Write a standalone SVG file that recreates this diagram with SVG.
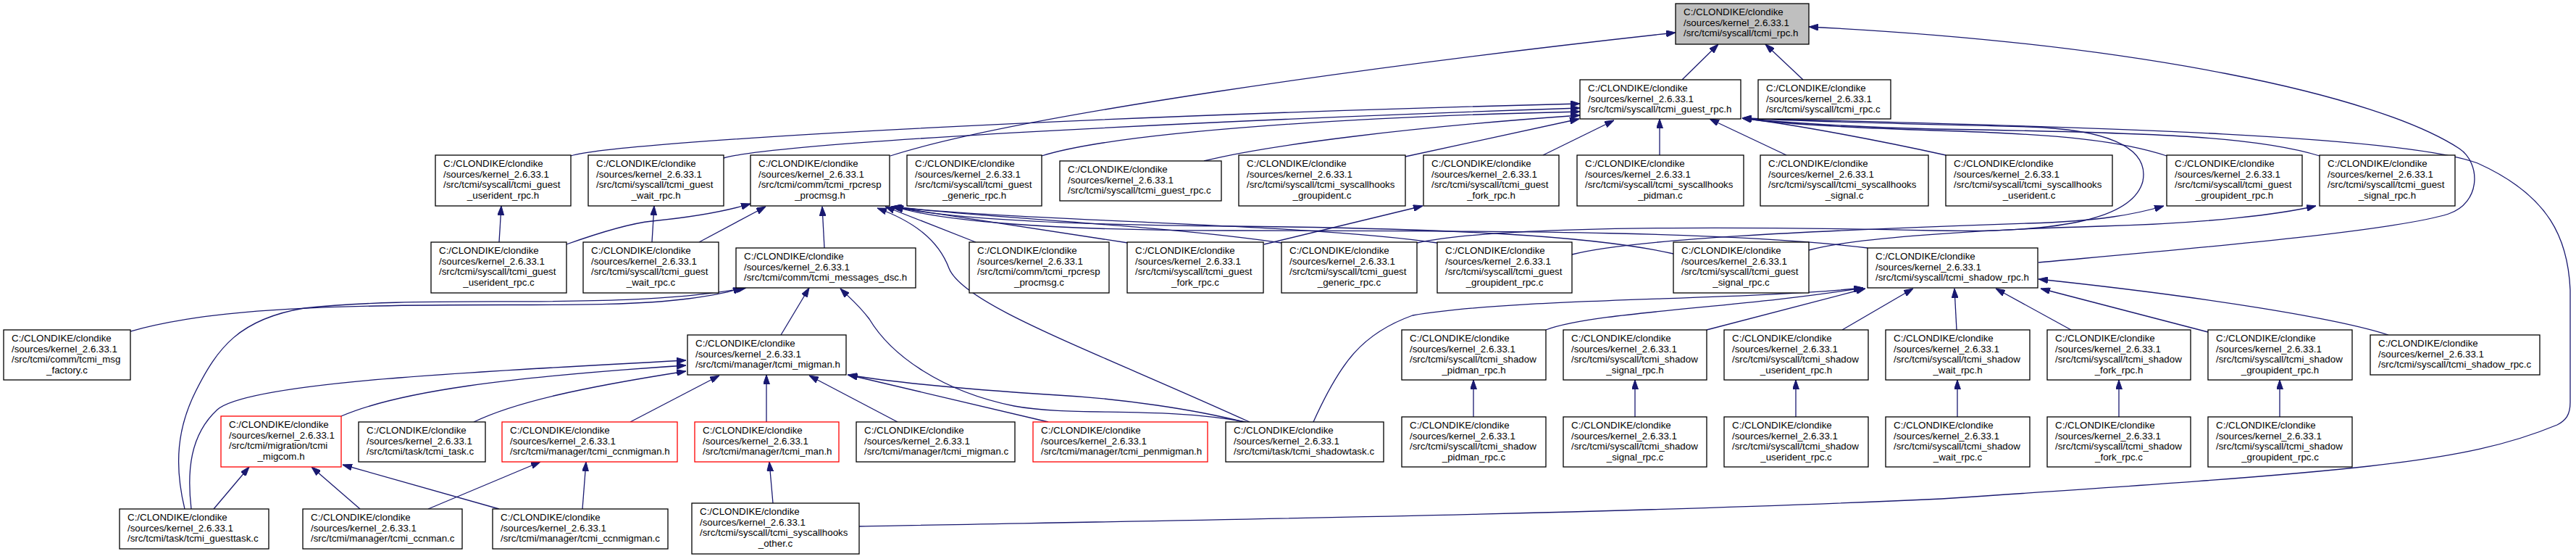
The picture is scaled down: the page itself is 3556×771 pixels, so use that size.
<svg xmlns="http://www.w3.org/2000/svg" width="3556" height="771" viewBox="0 0 3556 771">
<style>
.n rect{fill:#fff;stroke:#000;stroke-width:1.3}
.r rect{stroke:#f00}
.g rect{fill:#bfbfbf}
text{font-family:"Liberation Sans",Arial,sans-serif;font-size:13.33px;fill:#000}
.m{text-anchor:middle}
#edges path{fill:none;stroke:#191970;stroke-width:1.3;marker-end:url(#a)}
</style>
<defs>
<marker id="a" viewBox="0 0 13 9" refX="13" refY="4.5" markerWidth="13" markerHeight="9" markerUnits="userSpaceOnUse" orient="auto" preserveAspectRatio="none">
<path d="M0,0 L13,4.5 L0,9 z" fill="#191970" stroke="#191970" stroke-width="1"/>
</marker>
</defs>
<rect width="3556" height="771" fill="#fff"/>
<g id="edges">
<path d="M2322,110 L2372,61"/>
<path d="M2489,110 L2437,61"/>
<path d="M1229,215 C1400,160 1900,90 2313,45"/>
<path d="M2814,362 C3000,345 3300,320 3380,295 C3425,280 3425,225 3395,205 C3280,130 2950,60 2497,37"/>
<path d="M1186,726 C1600,718 2200,710 2680,688 C3250,650 3400,640 3530,586 C3542,580 3548,572 3548,555 L3548,400 C3545,330 3520,270 3420,225 C3300,180 2700,172 2405,163"/>
<path d="M1956,335 C2050,315 2300,310 2670,318 C2850,322 2945,300 2958,250 C2968,200 2900,178 2800,175 C2650,171 2500,168 2405,163"/>
<path d="M2686,214 C2600,195 2480,172 2405,163"/>
<path d="M2991,215 C2930,195 2850,185 2670,180 C2550,176 2450,170 2405,163"/>
<path d="M3202,215 C3120,190 3000,183 2670,178 C2550,175 2450,168 2405,163"/>
<path d="M788,215 C850,195 1500,160 2181,143"/>
<path d="M999,218 C1080,195 1700,165 2181,149"/>
<path d="M1438,215 C1550,180 1900,160 2181,154"/>
<path d="M1662,222 C1750,200 1950,175 2181,159"/>
<path d="M1940,216 L2180,164"/>
<path d="M2130,214 L2228,166"/>
<path d="M2291,214 L2291,164"/>
<path d="M2466,214 L2360,164"/>
<path d="M689,334 L692,284"/>
<path d="M900,334 L903,284"/>
<path d="M782,337 C830,320 870,308 900,305 C950,300 1000,292 1036,281"/>
<path d="M965,334 L1057,285"/>
<path d="M1138,342 L1135,285"/>
<path d="M1347,334 L1222,285"/>
<path d="M1557,335 L1230,285"/>
<path d="M1769,335 C1600,310 1350,300 1231,285"/>
<path d="M1984,335 C1800,308 1400,305 1232,285"/>
<path d="M2310,350 C2200,325 2000,315 1700,312 C1450,310 1300,300 1233,285"/>
<path d="M2578,342 C2400,320 2100,318 1700,318 C1450,318 1300,305 1234,285"/>
<path d="M1725,582 C1500,480 1330,420 1310,370 C1295,330 1260,305 1211,287"/>
<path d="M1720,582 C1600,560 1480,575 1400,560 C1300,540 1230,490 1200,440 C1185,420 1172,410 1160,398"/>
<path d="M1717,582 C1650,565 1550,550 1460,545 C1350,538 1250,530 1170,517"/>
<path d="M1078,462 L1117,397"/>
<path d="M180,457 C250,437 350,425 520,422 C700,418 850,425 950,412 C990,407 1010,402 1025,397"/>
<path d="M255,702 C240,640 245,590 270,540 C300,480 330,440 420,425 C600,405 850,430 1030,397"/>
<path d="M264,702 C258,650 262,600 300,565 C340,530 600,515 947,497"/>
<path d="M471,574 C550,540 700,520 947,504"/>
<path d="M654,582 C710,555 800,535 947,512"/>
<path d="M870,582 L993,518"/>
<path d="M1058,582 L1058,517"/>
<path d="M1239,582 L1117,518"/>
<path d="M1447,582 L1171,517"/>
<path d="M295,702 L344,644"/>
<path d="M497,702 L430,644"/>
<path d="M689,702 L473,641"/>
<path d="M591,702 L746,637"/>
<path d="M804,702 L809,637"/>
<path d="M1067,694 L1062,637"/>
<path d="M1813,582 C1850,500 1880,460 1950,435 C2100,410 2400,415 2572,397"/>
<path d="M2134,455 C2200,430 2400,425 2572,397"/>
<path d="M2356,455 L2575,398"/>
<path d="M2543,455 L2641,398"/>
<path d="M2701,455 L2698,398"/>
<path d="M2859,455 L2755,398"/>
<path d="M3048,458 L2817,398"/>
<path d="M3297,462 C3230,440 3050,410 2814,385"/>
<path d="M2034,575 L2034,524"/>
<path d="M2257,575 L2257,524"/>
<path d="M2479,575 L2479,524"/>
<path d="M2702,575 L2702,524"/>
<path d="M2925,575 L2925,524"/>
<path d="M3147,575 L3147,524"/>
<path d="M1745,337 L1964,284"/>
<path d="M2170,351 C2250,330 2500,318 2800,308 C2900,305 2950,295 2987,284"/>
<path d="M2497,345 C2550,330 2700,318 2900,312 C3050,308 3150,295 3197,284"/>
</g>
<g id="n1" class="n g"><rect x="2313" y="5" width="184" height="56"/><text x="2324" y="21">C:/CLONDIKE/clondike<tspan x="2324" dy="14.67">/sources/kernel_2.6.33.1</tspan><tspan x="2324" dy="14.67">/src/tcmi/syscall/tcmi_rpc.h</tspan></text></g>
<g id="n2" class="n"><rect x="2181" y="110" width="222" height="54"/><text x="2192" y="126">C:/CLONDIKE/clondike<tspan x="2192" dy="14.67">/sources/kernel_2.6.33.1</tspan><tspan x="2192" dy="14.67">/src/tcmi/syscall/tcmi_guest_rpc.h</tspan></text></g>
<g id="n3" class="n"><rect x="2427" y="110" width="183" height="54"/><text x="2438" y="126">C:/CLONDIKE/clondike<tspan x="2438" dy="14.67">/sources/kernel_2.6.33.1</tspan><tspan x="2438" dy="14.67">/src/tcmi/syscall/tcmi_rpc.c</tspan></text></g>
<g id="n4" class="n"><rect x="601" y="214" width="187" height="70"/><text x="612" y="230">C:/CLONDIKE/clondike<tspan x="612" dy="14.67">/sources/kernel_2.6.33.1</tspan><tspan x="612" dy="14.67">/src/tcmi/syscall/tcmi_guest</tspan><tspan x="694.5" dy="14.67" class="m">_userident_rpc.h</tspan></text></g>
<g id="n5" class="n"><rect x="812" y="214" width="187" height="70"/><text x="823" y="230">C:/CLONDIKE/clondike<tspan x="823" dy="14.67">/sources/kernel_2.6.33.1</tspan><tspan x="823" dy="14.67">/src/tcmi/syscall/tcmi_guest</tspan><tspan x="905.5" dy="14.67" class="m">_wait_rpc.h</tspan></text></g>
<g id="n6" class="n"><rect x="1036" y="214" width="192" height="70"/><text x="1047" y="230">C:/CLONDIKE/clondike<tspan x="1047" dy="14.67">/sources/kernel_2.6.33.1</tspan><tspan x="1047" dy="14.67">/src/tcmi/comm/tcmi_rpcresp</tspan><tspan x="1132" dy="14.67" class="m">_procmsg.h</tspan></text></g>
<g id="n7" class="n"><rect x="1252" y="214" width="186" height="70"/><text x="1263" y="230">C:/CLONDIKE/clondike<tspan x="1263" dy="14.67">/sources/kernel_2.6.33.1</tspan><tspan x="1263" dy="14.67">/src/tcmi/syscall/tcmi_guest</tspan><tspan x="1345" dy="14.67" class="m">_generic_rpc.h</tspan></text></g>
<g id="n8" class="n"><rect x="1463" y="222" width="223" height="55"/><text x="1474" y="238">C:/CLONDIKE/clondike<tspan x="1474" dy="14.67">/sources/kernel_2.6.33.1</tspan><tspan x="1474" dy="14.67">/src/tcmi/syscall/tcmi_guest_rpc.c</tspan></text></g>
<g id="n9" class="n"><rect x="1710" y="214" width="230" height="70"/><text x="1721" y="230">C:/CLONDIKE/clondike<tspan x="1721" dy="14.67">/sources/kernel_2.6.33.1</tspan><tspan x="1721" dy="14.67">/src/tcmi/syscall/tcmi_syscallhooks</tspan><tspan x="1825" dy="14.67" class="m">_groupident.c</tspan></text></g>
<g id="n10" class="n"><rect x="1965" y="214" width="187" height="70"/><text x="1976" y="230">C:/CLONDIKE/clondike<tspan x="1976" dy="14.67">/sources/kernel_2.6.33.1</tspan><tspan x="1976" dy="14.67">/src/tcmi/syscall/tcmi_guest</tspan><tspan x="2058.5" dy="14.67" class="m">_fork_rpc.h</tspan></text></g>
<g id="n11" class="n"><rect x="2177" y="214" width="230" height="70"/><text x="2188" y="230">C:/CLONDIKE/clondike<tspan x="2188" dy="14.67">/sources/kernel_2.6.33.1</tspan><tspan x="2188" dy="14.67">/src/tcmi/syscall/tcmi_syscallhooks</tspan><tspan x="2292" dy="14.67" class="m">_pidman.c</tspan></text></g>
<g id="n12" class="n"><rect x="2430" y="214" width="232" height="70"/><text x="2441" y="230">C:/CLONDIKE/clondike<tspan x="2441" dy="14.67">/sources/kernel_2.6.33.1</tspan><tspan x="2441" dy="14.67">/src/tcmi/syscall/tcmi_syscallhooks</tspan><tspan x="2546" dy="14.67" class="m">_signal.c</tspan></text></g>
<g id="n13" class="n"><rect x="2686" y="214" width="230" height="70"/><text x="2697" y="230">C:/CLONDIKE/clondike<tspan x="2697" dy="14.67">/sources/kernel_2.6.33.1</tspan><tspan x="2697" dy="14.67">/src/tcmi/syscall/tcmi_syscallhooks</tspan><tspan x="2801" dy="14.67" class="m">_userident.c</tspan></text></g>
<g id="n14" class="n"><rect x="2991" y="214" width="187" height="70"/><text x="3002" y="230">C:/CLONDIKE/clondike<tspan x="3002" dy="14.67">/sources/kernel_2.6.33.1</tspan><tspan x="3002" dy="14.67">/src/tcmi/syscall/tcmi_guest</tspan><tspan x="3084.5" dy="14.67" class="m">_groupident_rpc.h</tspan></text></g>
<g id="n15" class="n"><rect x="3202" y="214" width="187" height="70"/><text x="3213" y="230">C:/CLONDIKE/clondike<tspan x="3213" dy="14.67">/sources/kernel_2.6.33.1</tspan><tspan x="3213" dy="14.67">/src/tcmi/syscall/tcmi_guest</tspan><tspan x="3295.5" dy="14.67" class="m">_signal_rpc.h</tspan></text></g>
<g id="n16" class="n"><rect x="595" y="334" width="187" height="70"/><text x="606" y="350">C:/CLONDIKE/clondike<tspan x="606" dy="14.67">/sources/kernel_2.6.33.1</tspan><tspan x="606" dy="14.67">/src/tcmi/syscall/tcmi_guest</tspan><tspan x="688.5" dy="14.67" class="m">_userident_rpc.c</tspan></text></g>
<g id="n17" class="n"><rect x="805" y="334" width="187" height="70"/><text x="816" y="350">C:/CLONDIKE/clondike<tspan x="816" dy="14.67">/sources/kernel_2.6.33.1</tspan><tspan x="816" dy="14.67">/src/tcmi/syscall/tcmi_guest</tspan><tspan x="898.5" dy="14.67" class="m">_wait_rpc.c</tspan></text></g>
<g id="n18" class="n"><rect x="1016" y="342" width="248" height="55"/><text x="1027" y="358">C:/CLONDIKE/clondike<tspan x="1027" dy="14.67">/sources/kernel_2.6.33.1</tspan><tspan x="1027" dy="14.67">/src/tcmi/comm/tcmi_messages_dsc.h</tspan></text></g>
<g id="n19" class="n"><rect x="1338" y="334" width="193" height="70"/><text x="1349" y="350">C:/CLONDIKE/clondike<tspan x="1349" dy="14.67">/sources/kernel_2.6.33.1</tspan><tspan x="1349" dy="14.67">/src/tcmi/comm/tcmi_rpcresp</tspan><tspan x="1434.5" dy="14.67" class="m">_procmsg.c</tspan></text></g>
<g id="n20" class="n"><rect x="1556" y="334" width="188" height="70"/><text x="1567" y="350">C:/CLONDIKE/clondike<tspan x="1567" dy="14.67">/sources/kernel_2.6.33.1</tspan><tspan x="1567" dy="14.67">/src/tcmi/syscall/tcmi_guest</tspan><tspan x="1650" dy="14.67" class="m">_fork_rpc.c</tspan></text></g>
<g id="n21" class="n"><rect x="1769" y="334" width="187" height="70"/><text x="1780" y="350">C:/CLONDIKE/clondike<tspan x="1780" dy="14.67">/sources/kernel_2.6.33.1</tspan><tspan x="1780" dy="14.67">/src/tcmi/syscall/tcmi_guest</tspan><tspan x="1862.5" dy="14.67" class="m">_generic_rpc.c</tspan></text></g>
<g id="n22" class="n"><rect x="1984" y="334" width="186" height="70"/><text x="1995" y="350">C:/CLONDIKE/clondike<tspan x="1995" dy="14.67">/sources/kernel_2.6.33.1</tspan><tspan x="1995" dy="14.67">/src/tcmi/syscall/tcmi_guest</tspan><tspan x="2077" dy="14.67" class="m">_groupident_rpc.c</tspan></text></g>
<g id="n23" class="n"><rect x="2310" y="334" width="187" height="70"/><text x="2321" y="350">C:/CLONDIKE/clondike<tspan x="2321" dy="14.67">/sources/kernel_2.6.33.1</tspan><tspan x="2321" dy="14.67">/src/tcmi/syscall/tcmi_guest</tspan><tspan x="2403.5" dy="14.67" class="m">_signal_rpc.c</tspan></text></g>
<g id="n24" class="n"><rect x="2578" y="342" width="235" height="55"/><text x="2589" y="358">C:/CLONDIKE/clondike<tspan x="2589" dy="14.67">/sources/kernel_2.6.33.1</tspan><tspan x="2589" dy="14.67">/src/tcmi/syscall/tcmi_shadow_rpc.h</tspan></text></g>
<g id="n25" class="n"><rect x="5" y="455" width="175" height="69"/><text x="16" y="471">C:/CLONDIKE/clondike<tspan x="16" dy="14.67">/sources/kernel_2.6.33.1</tspan><tspan x="16" dy="14.67">/src/tcmi/comm/tcmi_msg</tspan><tspan x="92.5" dy="14.67" class="m">_factory.c</tspan></text></g>
<g id="n26" class="n"><rect x="949" y="462" width="219" height="55"/><text x="960" y="478">C:/CLONDIKE/clondike<tspan x="960" dy="14.67">/sources/kernel_2.6.33.1</tspan><tspan x="960" dy="14.67">/src/tcmi/manager/tcmi_migman.h</tspan></text></g>
<g id="n27" class="n"><rect x="1935" y="455" width="199" height="69"/><text x="1946" y="471">C:/CLONDIKE/clondike<tspan x="1946" dy="14.67">/sources/kernel_2.6.33.1</tspan><tspan x="1946" dy="14.67">/src/tcmi/syscall/tcmi_shadow</tspan><tspan x="2034.5" dy="14.67" class="m">_pidman_rpc.h</tspan></text></g>
<g id="n28" class="n"><rect x="2158" y="455" width="198" height="69"/><text x="2169" y="471">C:/CLONDIKE/clondike<tspan x="2169" dy="14.67">/sources/kernel_2.6.33.1</tspan><tspan x="2169" dy="14.67">/src/tcmi/syscall/tcmi_shadow</tspan><tspan x="2257" dy="14.67" class="m">_signal_rpc.h</tspan></text></g>
<g id="n29" class="n"><rect x="2380" y="455" width="199" height="69"/><text x="2391" y="471">C:/CLONDIKE/clondike<tspan x="2391" dy="14.67">/sources/kernel_2.6.33.1</tspan><tspan x="2391" dy="14.67">/src/tcmi/syscall/tcmi_shadow</tspan><tspan x="2479.5" dy="14.67" class="m">_userident_rpc.h</tspan></text></g>
<g id="n30" class="n"><rect x="2603" y="455" width="199" height="69"/><text x="2614" y="471">C:/CLONDIKE/clondike<tspan x="2614" dy="14.67">/sources/kernel_2.6.33.1</tspan><tspan x="2614" dy="14.67">/src/tcmi/syscall/tcmi_shadow</tspan><tspan x="2702.5" dy="14.67" class="m">_wait_rpc.h</tspan></text></g>
<g id="n31" class="n"><rect x="2826" y="455" width="198" height="69"/><text x="2837" y="471">C:/CLONDIKE/clondike<tspan x="2837" dy="14.67">/sources/kernel_2.6.33.1</tspan><tspan x="2837" dy="14.67">/src/tcmi/syscall/tcmi_shadow</tspan><tspan x="2925" dy="14.67" class="m">_fork_rpc.h</tspan></text></g>
<g id="n32" class="n"><rect x="3048" y="455" width="199" height="69"/><text x="3059" y="471">C:/CLONDIKE/clondike<tspan x="3059" dy="14.67">/sources/kernel_2.6.33.1</tspan><tspan x="3059" dy="14.67">/src/tcmi/syscall/tcmi_shadow</tspan><tspan x="3147.5" dy="14.67" class="m">_groupident_rpc.h</tspan></text></g>
<g id="n33" class="n"><rect x="3272" y="462" width="234" height="55"/><text x="3283" y="478">C:/CLONDIKE/clondike<tspan x="3283" dy="14.67">/sources/kernel_2.6.33.1</tspan><tspan x="3283" dy="14.67">/src/tcmi/syscall/tcmi_shadow_rpc.c</tspan></text></g>
<g id="n34" class="n r"><rect x="305" y="574" width="166" height="70"/><text x="316" y="590">C:/CLONDIKE/clondike<tspan x="316" dy="14.67">/sources/kernel_2.6.33.1</tspan><tspan x="316" dy="14.67">/src/tcmi/migration/tcmi</tspan><tspan x="388" dy="14.67" class="m">_migcom.h</tspan></text></g>
<g id="n35" class="n"><rect x="495" y="582" width="175" height="55"/><text x="506" y="598">C:/CLONDIKE/clondike<tspan x="506" dy="14.67">/sources/kernel_2.6.33.1</tspan><tspan x="506" dy="14.67">/src/tcmi/task/tcmi_task.c</tspan></text></g>
<g id="n36" class="n r"><rect x="693" y="582" width="242" height="55"/><text x="704" y="598">C:/CLONDIKE/clondike<tspan x="704" dy="14.67">/sources/kernel_2.6.33.1</tspan><tspan x="704" dy="14.67">/src/tcmi/manager/tcmi_ccnmigman.h</tspan></text></g>
<g id="n37" class="n r"><rect x="959" y="582" width="199" height="55"/><text x="970" y="598">C:/CLONDIKE/clondike<tspan x="970" dy="14.67">/sources/kernel_2.6.33.1</tspan><tspan x="970" dy="14.67">/src/tcmi/manager/tcmi_man.h</tspan></text></g>
<g id="n38" class="n"><rect x="1182" y="582" width="219" height="55"/><text x="1193" y="598">C:/CLONDIKE/clondike<tspan x="1193" dy="14.67">/sources/kernel_2.6.33.1</tspan><tspan x="1193" dy="14.67">/src/tcmi/manager/tcmi_migman.c</tspan></text></g>
<g id="n39" class="n r"><rect x="1426" y="582" width="241" height="55"/><text x="1437" y="598">C:/CLONDIKE/clondike<tspan x="1437" dy="14.67">/sources/kernel_2.6.33.1</tspan><tspan x="1437" dy="14.67">/src/tcmi/manager/tcmi_penmigman.h</tspan></text></g>
<g id="n40" class="n"><rect x="1692" y="582" width="218" height="55"/><text x="1703" y="598">C:/CLONDIKE/clondike<tspan x="1703" dy="14.67">/sources/kernel_2.6.33.1</tspan><tspan x="1703" dy="14.67">/src/tcmi/task/tcmi_shadowtask.c</tspan></text></g>
<g id="n41" class="n"><rect x="1935" y="575" width="199" height="69"/><text x="1946" y="591">C:/CLONDIKE/clondike<tspan x="1946" dy="14.67">/sources/kernel_2.6.33.1</tspan><tspan x="1946" dy="14.67">/src/tcmi/syscall/tcmi_shadow</tspan><tspan x="2034.5" dy="14.67" class="m">_pidman_rpc.c</tspan></text></g>
<g id="n42" class="n"><rect x="2158" y="575" width="198" height="69"/><text x="2169" y="591">C:/CLONDIKE/clondike<tspan x="2169" dy="14.67">/sources/kernel_2.6.33.1</tspan><tspan x="2169" dy="14.67">/src/tcmi/syscall/tcmi_shadow</tspan><tspan x="2257" dy="14.67" class="m">_signal_rpc.c</tspan></text></g>
<g id="n43" class="n"><rect x="2380" y="575" width="199" height="69"/><text x="2391" y="591">C:/CLONDIKE/clondike<tspan x="2391" dy="14.67">/sources/kernel_2.6.33.1</tspan><tspan x="2391" dy="14.67">/src/tcmi/syscall/tcmi_shadow</tspan><tspan x="2479.5" dy="14.67" class="m">_userident_rpc.c</tspan></text></g>
<g id="n44" class="n"><rect x="2603" y="575" width="199" height="69"/><text x="2614" y="591">C:/CLONDIKE/clondike<tspan x="2614" dy="14.67">/sources/kernel_2.6.33.1</tspan><tspan x="2614" dy="14.67">/src/tcmi/syscall/tcmi_shadow</tspan><tspan x="2702.5" dy="14.67" class="m">_wait_rpc.c</tspan></text></g>
<g id="n45" class="n"><rect x="2826" y="575" width="198" height="69"/><text x="2837" y="591">C:/CLONDIKE/clondike<tspan x="2837" dy="14.67">/sources/kernel_2.6.33.1</tspan><tspan x="2837" dy="14.67">/src/tcmi/syscall/tcmi_shadow</tspan><tspan x="2925" dy="14.67" class="m">_fork_rpc.c</tspan></text></g>
<g id="n46" class="n"><rect x="3048" y="575" width="199" height="69"/><text x="3059" y="591">C:/CLONDIKE/clondike<tspan x="3059" dy="14.67">/sources/kernel_2.6.33.1</tspan><tspan x="3059" dy="14.67">/src/tcmi/syscall/tcmi_shadow</tspan><tspan x="3147.5" dy="14.67" class="m">_groupident_rpc.c</tspan></text></g>
<g id="n47" class="n"><rect x="165" y="702" width="206" height="55"/><text x="176" y="718">C:/CLONDIKE/clondike<tspan x="176" dy="14.67">/sources/kernel_2.6.33.1</tspan><tspan x="176" dy="14.67">/src/tcmi/task/tcmi_guesttask.c</tspan></text></g>
<g id="n48" class="n"><rect x="418" y="702" width="220" height="55"/><text x="429" y="718">C:/CLONDIKE/clondike<tspan x="429" dy="14.67">/sources/kernel_2.6.33.1</tspan><tspan x="429" dy="14.67">/src/tcmi/manager/tcmi_ccnman.c</tspan></text></g>
<g id="n49" class="n"><rect x="680" y="702" width="242" height="55"/><text x="691" y="718">C:/CLONDIKE/clondike<tspan x="691" dy="14.67">/sources/kernel_2.6.33.1</tspan><tspan x="691" dy="14.67">/src/tcmi/manager/tcmi_ccnmigman.c</tspan></text></g>
<g id="n50" class="n"><rect x="955" y="694" width="231" height="70"/><text x="966" y="710">C:/CLONDIKE/clondike<tspan x="966" dy="14.67">/sources/kernel_2.6.33.1</tspan><tspan x="966" dy="14.67">/src/tcmi/syscall/tcmi_syscallhooks</tspan><tspan x="1070.5" dy="14.67" class="m">_other.c</tspan></text></g>
</svg>
